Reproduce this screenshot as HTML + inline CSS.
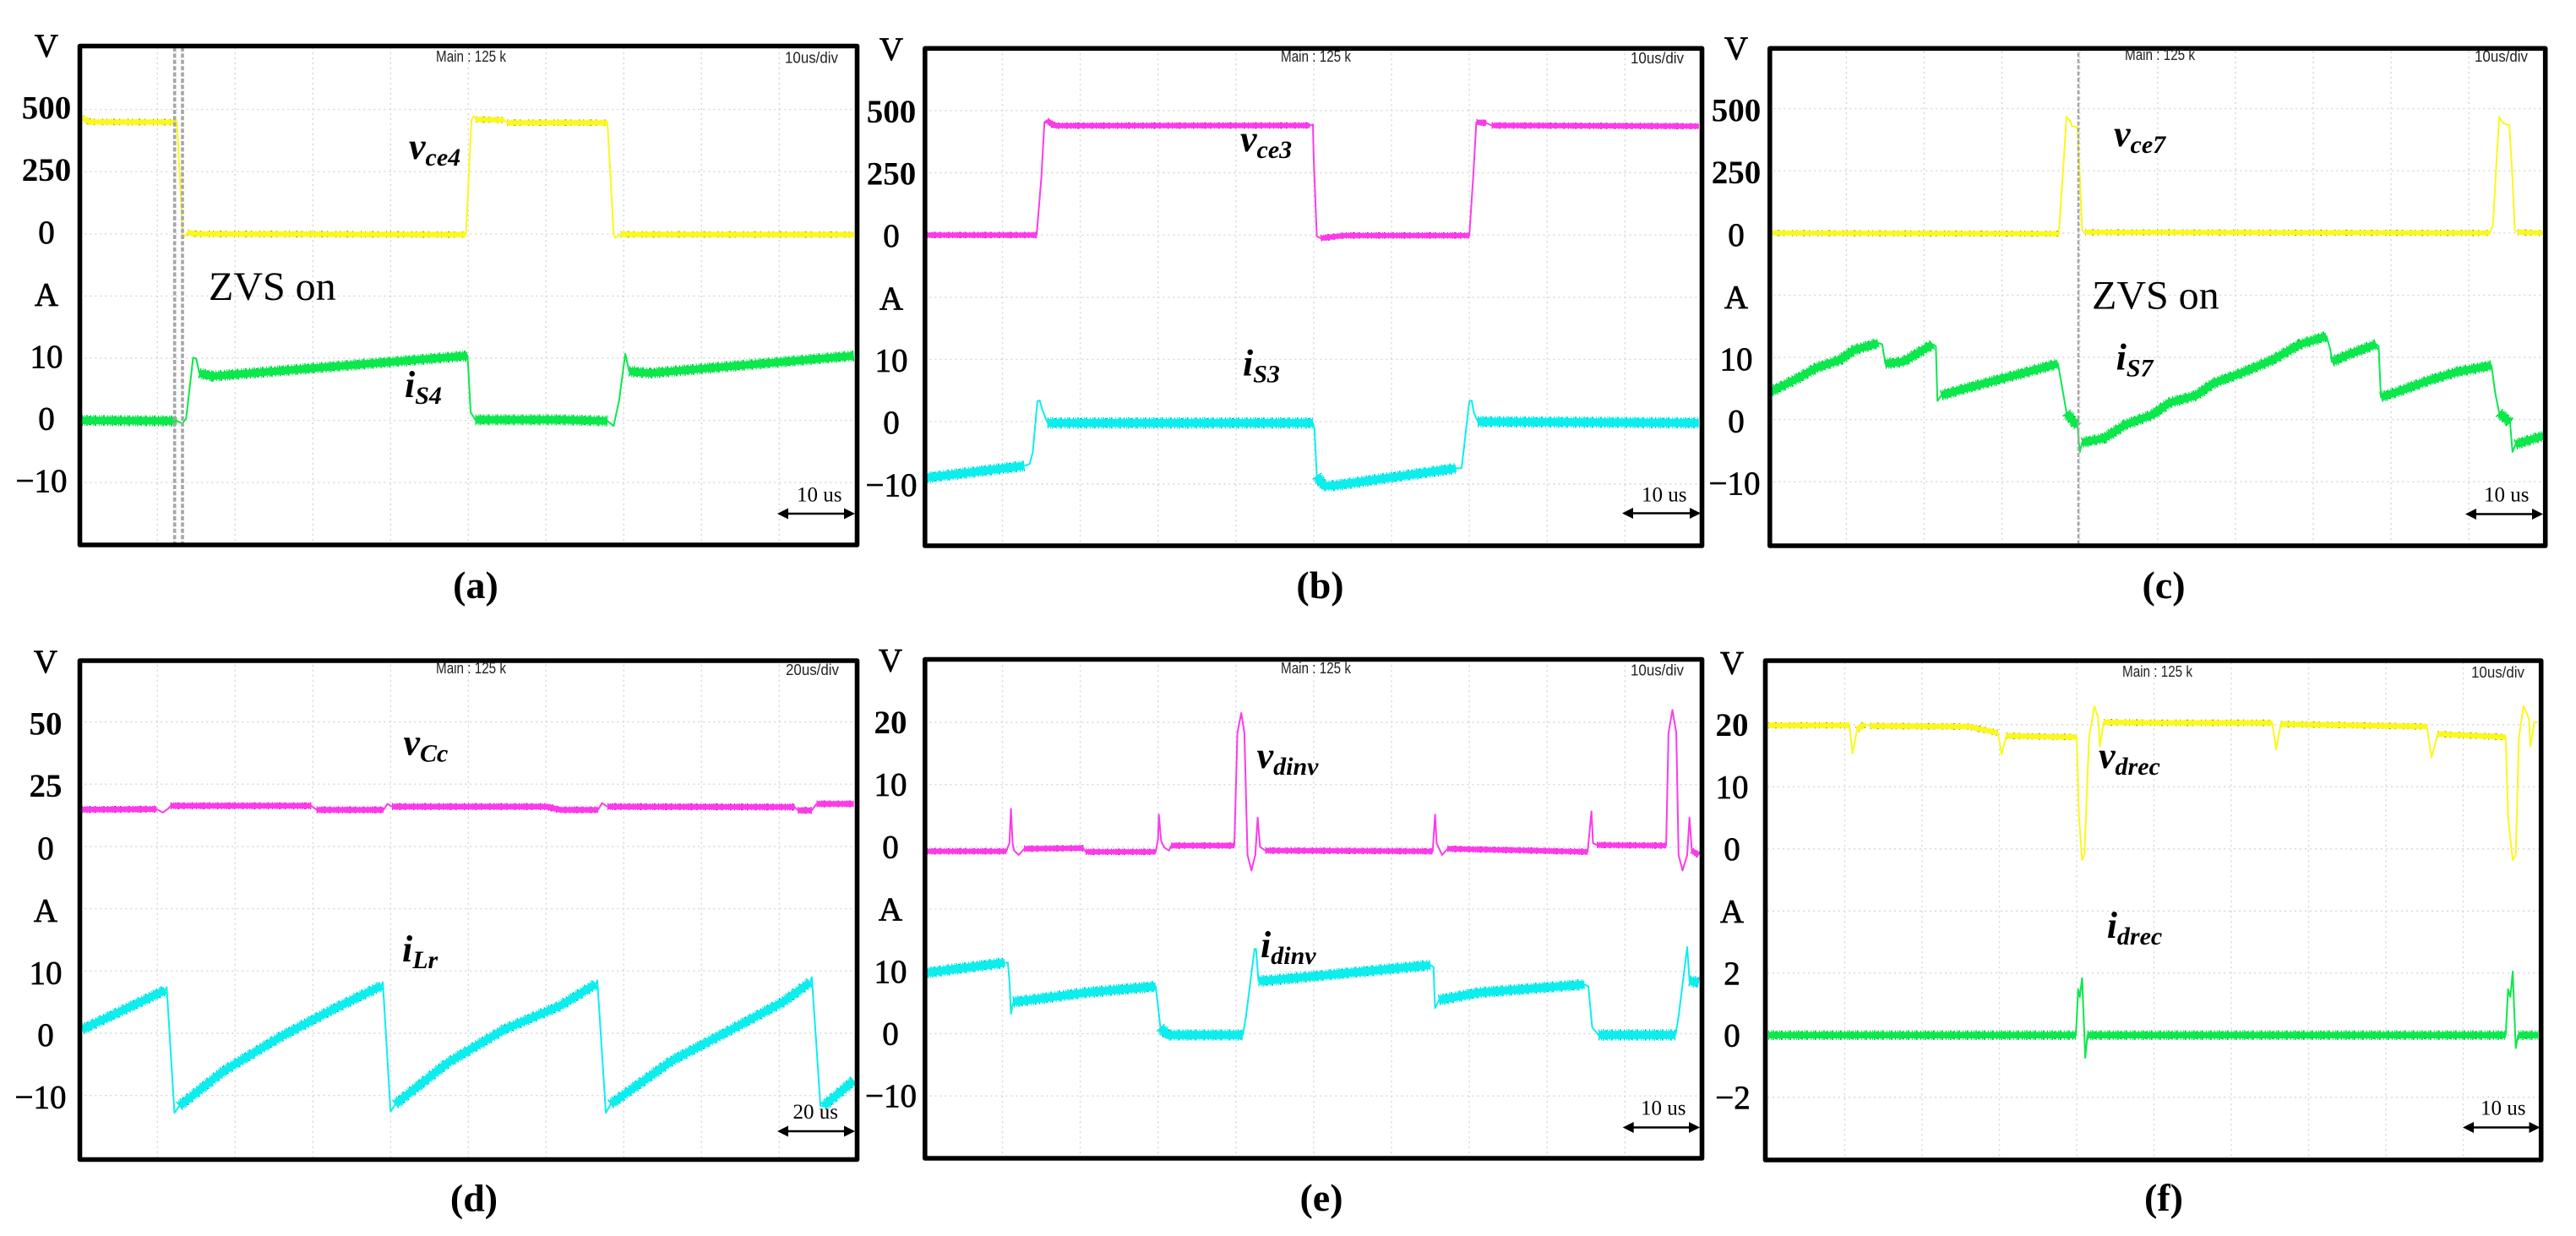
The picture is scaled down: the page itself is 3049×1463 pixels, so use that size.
<!DOCTYPE html>
<html lang="en">
<head>
<meta charset="utf-8">
<title>Converter switching waveforms</title>
<style>
html,body{margin:0;padding:0;background:#fff;width:3049px;height:1463px;overflow:hidden}
svg{display:block}
text{font-family:"Liberation Serif",serif;fill:#000}
.scope{font-family:"Liberation Sans",sans-serif;font-size:18px;fill:#222}
.sig{font-weight:bold;font-style:italic}
</style>
</head>
<body>
<svg id="figure" xmlns="http://www.w3.org/2000/svg" width="3049" height="1463" viewBox="0 0 3049 1463"></svg>
<script>
// Every series: [time in divisions, value in axis units]
const vce4 = [[0.03,466],[0.13,450],[1.25,449],[1.33,-16],[1.39,5],[1.5,0],[4.97,-3],[5.04,458],[5.07,474],[5.1,460],[5.46,458],[5.5,447],[6.79,447],[6.87,0],[6.89,-16],[6.96,-2],[9.96,-3]];
const iS4 = [[0.03,0],[1.25,-0.1],[1.32,-0.5],[1.37,0.3],[1.46,10.1],[1.5,9.9],[1.54,7.6],[1.71,7.1],[4.99,10.4],[5.03,1.3],[5.09,0.1],[6.2,0.1],[6.79,-0.1],[6.87,-0.9],[6.94,3.2],[7.02,10.7],[7.07,7.9],[7.33,7.6],[9.96,10.4]];
const vce3 = [[0.03,0],[1.44,0],[1.5,232],[1.54,453],[1.57,460],[1.67,439],[4.95,440],[4.99,444],[5,311],[5.04,-5],[5.09,-13],[5.31,-5],[5.4,-2],[7,-2],[7.05,232],[7.09,453],[7.22,450],[7.29,440],[9.95,437]];
const iS3 = [[0.03,-9],[1.28,-7.1],[1.35,-6.8],[1.39,-4.9],[1.45,3.3],[1.48,3.4],[1.51,2],[1.58,-0.2],[4.99,-0.2],[5.01,-1.1],[5.04,-8.7],[5.13,-10.3],[5.24,-10.3],[6.83,-7.5],[6.9,-7.5],[6.93,-4.3],[7,3.3],[7.03,3.4],[7.06,1.4],[7.11,0],[9.95,-0.2]];
const vce7 = [[0.03,0],[3.73,-3],[3.77,177],[3.83,467],[3.87,453],[3.9,430],[3.97,426],[4,224],[4.03,11],[4.07,3],[4.17,3],[9.27,0],[9.31,35],[9.35,256],[9.39,467],[9.44,442],[9.52,433],[9.56,224],[9.59,11],[9.63,3],[9.96,0]];
const iS7 = [[0.03,4.5],[0.4,6.8],[0.61,8.3],[0.92,9.6],[1.1,11.2],[1.41,12.3],[1.46,12.1],[1.5,9],[1.73,9.3],[2.11,12.1],[2.15,11.8],[2.17,3],[2.22,3.9],[2.5,4.9],[3.34,7.7],[3.72,9],[3.76,6.1],[3.83,1.1],[3.97,-1.1],[4,-5.2],[4.03,-3.7],[4.31,-3],[4.59,-0.8],[4.94,0.8],[5.15,2.7],[5.5,3.9],[5.71,5.8],[6.06,7.4],[6.48,9.6],[6.83,12.1],[7.17,13.4],[7.22,11.2],[7.24,9.3],[7.46,10.5],[7.81,12.1],[7.84,11.8],[7.87,3.6],[8.09,4.5],[8.51,6.4],[8.86,7.7],[9.29,8.7],[9.34,4.2],[9.39,1.1],[9.53,-0.5],[9.56,-5.2],[9.6,-4],[9.96,-2.6]];
const vCc = [[0.03,14.8],[0.99,15],[1.07,13.6],[1.14,15.2],[1.17,16.3],[2.98,16.3],[3.05,14.7],[3.91,14.7],[3.96,17.1],[4.02,16],[6,16],[6.18,14.7],[6.67,14.7],[6.72,17.4],[6.79,16],[9.2,15.8],[9.24,14.5],[9.42,14.5],[9.48,17.1],[9.96,17.1]];
const iLr = [[0.03,0.6],[1.1,6.9],[1.12,7.4],[1.22,-12.8],[1.28,-11.7],[1.86,-6],[2.58,-0.6],[3.3,4.1],[3.88,7.6],[3.9,8.2],[4,-12.6],[4.06,-11.4],[4.74,-4.7],[5.46,0.6],[6.18,4.4],[6.64,7.9],[6.66,8.5],[6.77,-12.8],[6.83,-11.4],[7.62,-4.4],[8.34,0.3],[9.06,5.1],[9.4,8.2],[9.42,9],[9.53,-11.7],[9.57,-11.7],[9.96,-7.6]];
const vdinv = [[0.03,-0.7],[1.05,-0.7],[1.09,0.6],[1.11,6.1],[1.13,0.6],[1.15,-0.6],[1.21,-1.3],[1.28,-0.3],[2.04,-0.2],[2.07,-0.8],[2.97,-0.8],[3,1.3],[3.01,5.2],[3.04,0.9],[3.08,-0.1],[3.14,-0.6],[3.17,0.2],[3.98,0.2],[4.02,18.3],[4.07,21.5],[4.11,18.3],[4.15,-1.3],[4.2,-3.8],[4.25,-1.3],[4.28,4.7],[4.31,0],[4.38,-0.6],[6.53,-0.7],[6.56,5.2],[6.58,0.6],[6.65,-1.3],[6.72,-0.3],[8.52,-0.8],[8.57,5.7],[8.59,0.6],[8.64,0.3],[9.53,0.2],[9.56,18.3],[9.61,22],[9.66,18.3],[9.69,-1.3],[9.74,-3.8],[9.8,-1.3],[9.83,4.7],[9.86,-0.6],[9.95,-1.3]];
const idinv = [[0.03,9.8],[1.03,11.4],[1.07,11.4],[1.09,8.5],[1.11,3.2],[1.14,5.1],[1.35,5.4],[2.07,6.6],[2.97,7.6],[2.99,5.4],[3.03,1],[3.12,-0.2],[4.09,-0.2],[4.13,2.8],[4.24,13.6],[4.26,13.6],[4.29,8.5],[4.38,8.5],[6.5,11],[6.54,10.7],[6.56,4.1],[6.61,5.4],[7.12,6.6],[8.48,7.9],[8.53,7.6],[8.58,1],[8.66,-0.2],[9.65,-0.2],[9.69,2.8],[9.8,13.9],[9.83,8.5],[9.95,8.2]];
const vdrec = [[0.01,19.9],[1.06,19.9],[1.1,15.4],[1.16,19.2],[1.26,20.1],[1.33,19.8],[2.6,19.7],[2.98,18.7],[3.03,15.2],[3.09,18.2],[4,18],[4.03,5.2],[4.07,-1.8],[4.1,-1],[4.16,17.9],[4.23,23],[4.28,21],[4.3,16.5],[4.35,20.4],[5.06,20.3],[6.53,20.3],[6.58,16],[6.64,20.1],[7.59,19.9],[8.53,19.7],[8.59,14.7],[8.67,18.5],[9.55,18],[9.58,5.2],[9.64,-1.8],[9.68,-1],[9.72,17.9],[9.78,23],[9.85,21],[9.87,16.5],[9.92,20.4],[9.96,20.4]];
const idrec = [[0.01,0],[3.99,0],[4.02,1.48],[4.04,1.23],[4.07,1.84],[4.1,-0.04],[4.11,-0.73],[4.14,0],[9.55,0],[9.58,1.48],[9.61,1.23],[9.64,2.05],[9.67,0.2],[9.68,-0.42],[9.71,0],[9.97,0]];

// Tick labels for each panel's upper (V) and lower (A) axes
const ticksVa = [500,250,0];
const ticksVb = [500,250,0];
const ticksVc = [500,250,0];
const ticksVd = [50,25,0];
const ticksVe = [20,10,0];
const ticksVf = [20,10,0];
const ticksAa = [10,0,-10];
const ticksAb = [10,0,-10];
const ticksAc = [10,0,-10];
const ticksAd = [10,0,-10];
const ticksAe = [10,0,-10];
const ticksAf = [2,0,-2];
const boldTicks = ['500','250','50','25','20'];

const YELLOW = ['#faf81c','#7d7a10'];
const MAGENTA = ['#fb3bea','#a3189a'];
const CYAN = ['#0ceeee','#0a7a78'];
const GREEN = ['#0ae84c','#0a7a2c'];

const panels = [
 {id:'a',frame:[94.5,54.5,1014.5,645],left:94.3,dx:92,top:56,dy:73.6,vDiv:250,aDiv:10,labelX:55,neg:49,off:11,ticksV:ticksVa,ticksA:ticksAa,
  main:[516,73],div:[929,74.5,'10us/div'],cap:[563,708],scale:[943,593.5,'10 us',920,1012,608],
  sig:[{s:'v',sub:'ce4',x:484,y:188},{s:'i',sub:'S4',x:479,y:470}],
  traces:[{d:vce4,axis:'v',c:YELLOW,w:6,n:'vce4-trace'},{d:iS4,axis:'a',c:GREEN,w:9,n:'is4-trace'}],
  cursors:[206.7,216],cursorW:3.6,zvs:[247,355]},
 {id:'b',frame:[1094.8,57.3,2014.5,646],left:1094.4,dx:92.1,top:57.2,dy:73.65,vDiv:250,aDiv:10,labelX:1055,neg:1055,off:14,ticksV:ticksVb,ticksA:ticksAb,
  main:[1516,73],div:[1930,75,'10us/div'],cap:[1562.5,708],scale:[1943,593.5,'10 us',1920,2013,607.5],
  sig:[{s:'v',sub:'ce3',x:1468,y:179},{s:'i',sub:'S3',x:1471,y:444.6}],
  traces:[{d:vce3,axis:'v',c:MAGENTA,w:6,n:'vce3-trace'},{d:iS3,axis:'a',c:CYAN,w:9.5,n:'is3-trace'}],
  cursors:[],cursorW:0,zvs:null},
 {id:'c',frame:[2094.8,57.3,3012.7,646],left:2093.3,dx:92.1,top:55,dy:73.6,vDiv:250,aDiv:10,labelX:2055,neg:2053,off:15,ticksV:ticksVc,ticksA:ticksAc,
  main:[2515,71],div:[2929,73,'10us/div'],cap:[2561,708],scale:[2940,593.5,'10 us',2918,3010,608.5],
  sig:[{s:'v',sub:'ce7',x:2502,y:173},{s:'i',sub:'S7',x:2504.6,y:437.6}],
  traces:[{d:vce7,axis:'v',c:YELLOW,w:5.5,n:'vce7-trace'},{d:iS7,axis:'a',c:GREEN,w:9,n:'is7-trace'}],
  cursors:[2460],cursorW:2.6,zvs:[2476,365.5]},
 {id:'d',frame:[94.5,782,1014.5,1372.5],left:94.3,dx:92,top:780.8,dy:73.7,vDiv:25,aDiv:10,labelX:54,neg:48,off:15,ticksV:ticksVd,ticksA:ticksAd,
  main:[516,797],div:[930,799,'20us/div'],cap:[561,1433.6],scale:[938.5,1324,'20 us',920,1012,1339],
  sig:[{s:'v',sub:'Cc',x:477.5,y:893.6},{s:'i',sub:'Lr',x:476,y:1138}],
  traces:[{d:vCc,axis:'v',c:MAGENTA,w:6.5,n:'vcc-trace'},{d:iLr,axis:'a',c:CYAN,w:9,n:'ilr-trace'}],
  cursors:[],cursorW:0,zvs:null},
 {id:'e',frame:[1094.8,780.5,2014.5,1371],left:1094.4,dx:92.1,top:781.3,dy:73.7,vDiv:10,aDiv:10,labelX:1054,neg:1054.5,off:13,ticksV:ticksVe,ticksA:ticksAe,
  main:[1516,797],div:[1930,799.5,'10us/div'],cap:[1564,1433],scale:[1942,1319.6,'10 us',1920.7,2012,1334.5],
  sig:[{s:'v',sub:'dinv',x:1487.6,y:909},{s:'i',sub:'dinv',x:1492,y:1133}],
  traces:[{d:vdinv,axis:'v',c:MAGENTA,w:6,n:'vdinv-trace'},{d:idinv,axis:'a',c:CYAN,w:9.5,n:'idinv-trace'}],
  cursors:[],cursorW:0,zvs:null},
 {id:'f',frame:[2089.5,782,3007.7,1373],left:2092,dx:91.5,top:784.3,dy:73.5,vDiv:10,aDiv:2,labelX:2050,neg:2051,off:13,ticksV:ticksVf,ticksA:ticksAf,
  main:[2512,801],div:[2925,802,'10us/div'],cap:[2561,1433],scale:[2936,1319.6,'10 us',2915,3006.5,1334.5],
  sig:[{s:'v',sub:'drec',x:2484,y:909},{s:'i',sub:'drec',x:2493.7,y:1110}],
  traces:[{d:vdrec,axis:'v',c:YELLOW,w:6,n:'vdrec-trace'},{d:idrec,axis:'a',c:GREEN,w:7.5,n:'idrec-trace'}],
  cursors:[],cursorW:0,zvs:null}
];

const NS = 'http://www.w3.org/2000/svg';
const root = document.getElementById('figure');

function make(parent, tag, attrs, txt){
  const el = document.createElementNS(NS, tag);
  for (const k in attrs) el.setAttribute(k, attrs[k]);
  if (txt !== undefined) el.textContent = txt;
  parent.appendChild(el);
  return el;
}

function tickLabel(group, p, value, y){
  const str = String(value).replace('-', '\u2212');
  const bold = boldTicks.indexOf(str) >= 0;
  const el = make(group, 'text', {
    x: value < 0 ? p.neg : p.labelX, y: y + p.off, 'text-anchor': 'middle', 'font-size': 39,
    'font-weight': bold ? 'bold' : 'normal', stroke: bold ? 'none' : '#000', 'stroke-width': bold ? 0 : 0.7
  }, str);
  
  
}

function tracePaths(points, xf, yf){
  let band = '', thin = '', bandOpen = false;
  for (let i = 0; i < points.length; i++){
    const px = xf(points[i][0]), py = yf(points[i][1]);
    thin += (i ? 'L' : 'M') + px.toFixed(1) + ' ' + py.toFixed(1);
    if (i){
      const qx = xf(points[i-1][0]), qy = yf(points[i-1][1]);
      const ddx = Math.abs(px - qx), ddy = Math.abs(py - qy);
      if (ddx >= 8 && ddy <= 1.5 * ddx){
        if (!bandOpen) band += 'M' + qx.toFixed(1) + ' ' + qy.toFixed(1);
        band += 'L' + px.toFixed(1) + ' ' + py.toFixed(1);
        bandOpen = true;
      } else bandOpen = false;
    }
  }
  return {band, thin};
}

panels.forEach(function(p){
  const xOf = function(t){ return p.left + t * p.dx; };
  const yV = function(v){ return p.top + (3 - v / p.vDiv) * p.dy; };
  const yA = function(a){ return p.top + (6 - a / p.aDiv) * p.dy; };
  const right = xOf(10), bottom = p.top + 8 * p.dy;

  const g = make(root, 'g', {});
  
  

  for (let i = 1; i < 10; i++){
    const gl = make(g, 'line', {x1: xOf(i), x2: xOf(i), y1: p.top, y2: bottom, stroke: '#d6d6d6', 'stroke-width': 1.4, 'stroke-dasharray': '2 4'});
    
    
  }
  for (let i = 1; i < 8; i++){
    const gl = make(g, 'line', {x1: p.left, x2: right, y1: p.top + i * p.dy, y2: p.top + i * p.dy, stroke: '#d6d6d6', 'stroke-width': 1.4, 'stroke-dasharray': '2 4'});
    
    
  }

  p.traces.forEach(function(tr){
    const yf = tr.axis === 'v' ? yV : yA;
    const paths = tracePaths(tr.d, xOf, yf);
    const fringe = make(g, 'path', {d: paths.band, fill: 'none', stroke: tr.c[0], 'stroke-width': tr.w + (tr.axis === 'a' ? 4 : 1.5), 'stroke-dasharray': '1 2 1 1 2 3', 'stroke-linejoin': 'round'});
    
    
    const speck = make(g, 'path', {d: paths.band, fill: 'none', stroke: tr.c[1], 'stroke-width': tr.w + 1.6, 'stroke-dasharray': '1 7 2 5 1 9 1 4', 'stroke-linejoin': 'round'});
    
    
    const thin = make(g, 'path', {d: paths.thin, fill: 'none', stroke: tr.c[0], 'stroke-width': 2, 'stroke-linejoin': 'round'});
    
    
    const band = make(g, 'path', {d: paths.band, fill: 'none', stroke: tr.c[0], 'stroke-width': tr.w, 'stroke-linejoin': 'round'});
    
    
  });

  p.cursors.forEach(function(cx){
    const cur = make(g, 'line', {x1: cx, x2: cx, y1: p.top, y2: bottom, stroke: '#a6a6a6', 'stroke-width': p.cursorW, 'stroke-dasharray': '5 2.4'});
    
    
  });

  const f = p.frame;
  const fr = make(g, 'rect', {x: f[0], y: f[1], width: f[2] - f[0], height: f[3] - f[1], fill: 'none', stroke: '#000', 'stroke-width': 5.6, 'stroke-linejoin': 'round'});
  
  

  const unitV = make(g, 'text', {x: p.labelX, y: p.top + p.off, 'text-anchor': 'middle', 'font-size': 39, stroke: '#000', 'stroke-width': 0.7}, 'V');
  
  
  const unitA = make(g, 'text', {x: p.labelX, y: p.top + 4 * p.dy + p.off, 'text-anchor': 'middle', 'font-size': 39, stroke: '#000', 'stroke-width': 0.7}, 'A');
  
  
  p.ticksV.forEach(function(v){ tickLabel(g, p, v, yV(v)); });
  p.ticksA.forEach(function(a){ tickLabel(g, p, a, yA(a)); });

  const mainT = make(g, 'text', {x: p.main[0], y: p.main[1], 'class': 'scope', textLength: 83, lengthAdjust: 'spacingAndGlyphs'}, 'Main : 125 k');
  
  
  const divT = make(g, 'text', {x: p.div[0], y: p.div[1], 'class': 'scope', textLength: 63, lengthAdjust: 'spacingAndGlyphs'}, p.div[2]);
  
  

  p.sig.forEach(function(s){
    const t = make(g, 'text', {x: s.x, y: s.y, 'class': 'sig', 'font-size': 44});
    
    
    make(t, 'tspan', {}, s.s);
    make(t, 'tspan', {'font-size': 30, dy: 8}, s.sub);
  });

  if (p.zvs){
    const z = make(g, 'text', {x: p.zvs[0], y: p.zvs[1], 'font-size': 48}, 'ZVS on');
    
    
  }

  const sc = p.scale;
  const st = make(g, 'text', {x: sc[0], y: sc[1], 'font-size': 25}, sc[2]);
  
  
  const sl = make(g, 'line', {x1: sc[3] + 6, x2: sc[4] - 6, y1: sc[5], y2: sc[5], stroke: '#000', 'stroke-width': 2.6});
  
  
  const ah1 = make(g, 'polygon', {points: sc[3] + ',' + sc[5] + ' ' + (sc[3] + 13) + ',' + (sc[5] - 6.5) + ' ' + (sc[3] + 13) + ',' + (sc[5] + 6.5), fill: '#000'});
  
  
  const ah2 = make(g, 'polygon', {points: sc[4] + ',' + sc[5] + ' ' + (sc[4] - 13) + ',' + (sc[5] - 6.5) + ' ' + (sc[4] - 13) + ',' + (sc[5] + 6.5), fill: '#000'});
  
  

  const cap = make(g, 'text', {x: p.cap[0], y: p.cap[1], 'text-anchor': 'middle', 'font-size': 46, 'font-weight': 'bold'}, '(' + p.id + ')');
  
  
});
</script>
</body>
</html>
